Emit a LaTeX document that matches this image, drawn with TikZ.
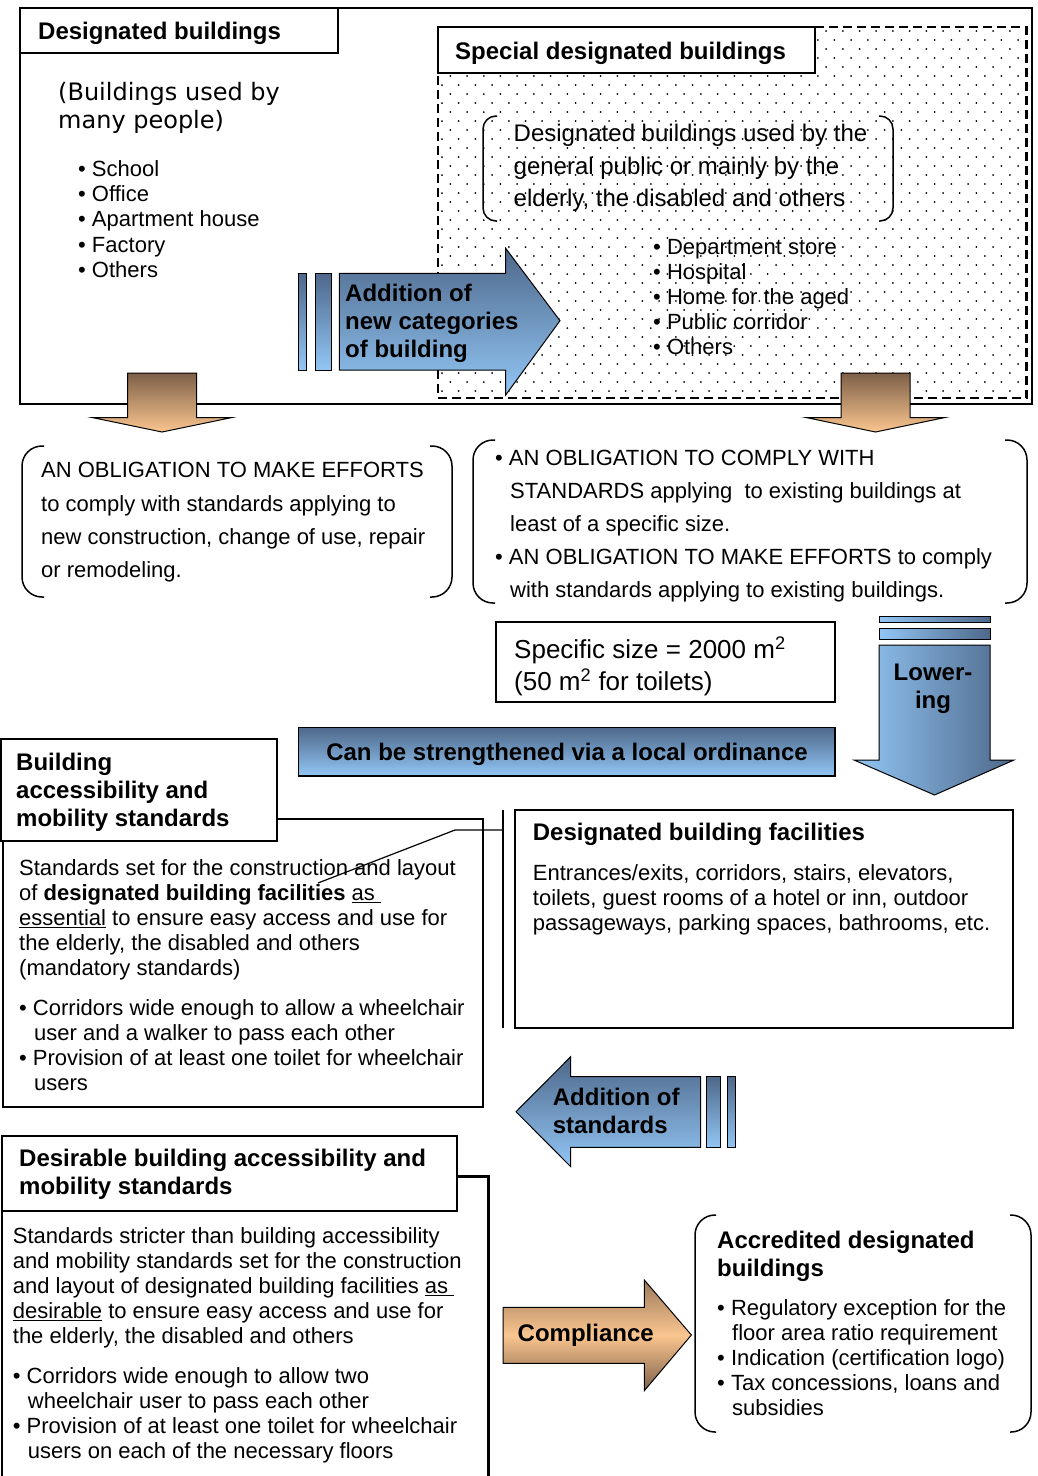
\documentclass[tikz,border=0pt]{standalone}
\usepackage{fontspec}
\setmainfont{Liberation Sans}
\newfontfamily\dvs{DejaVu Sans}
\definecolor{bdark}{RGB}{78,104,138}
\definecolor{blight}{RGB}{146,198,245}
\definecolor{odark}{RGB}{125,96,72}
\definecolor{olight}{RGB}{250,197,143}
\newcommand\fst{\rule{0pt}{20pt}}
\tikzset{
  txt/.style={anchor=north west, inner sep=0pt, align=left, font=\fontsize{22}{25}\selectfont},
  hd/.style={anchor=north west, inner sep=0pt, align=left, font=\bfseries\fontsize{24}{28}\selectfont},
  tbox/.style={draw, line width=2pt, fill=white},
  bluev/.style={draw, line width=1pt, top color=bdark, bottom color=blight},
  blueh/.style={draw, line width=1pt, left color=blight, right color=bdark},
  orangev/.style={draw, line width=1pt, top color=odark, bottom color=olight},
  brk/.style={line width=1.5pt, rounded corners=#1},
  brk/.default=20pt
}
\begin{document}
\begin{tikzpicture}[x=1pt, y=-1pt]
\useasboundingbox (0,0) rectangle (1037,1476);
\fill[white] (0,0) rectangle (1037,1476);

% dots of the special region
\foreach \j in {0,...,40} {
  \foreach \i in {0,...,35} {
    \pgfmathsetmacro\dx{442+16.7*\i+8.35*mod(\j,2)}
    \pgfmathsetmacro\dy{31+9*\j}
    \ifdim\dx pt<1022pt \fill (\dx,\dy) circle (1.0); \fi
  }
}

% outer frame
\draw[line width=2.5pt] (20,8) rectangle (1032,404);
\draw[tbox] (20,8) rectangle (338,53);
\node[hd] (tDes) at (38,19.5) {\fst Designated buildings};
\node[anchor=north west, inner sep=0pt, align=left, font=\dvs\fontsize{24}{28.7}\selectfont] (tMany) at (58,80) {\fst(Buildings used by\\many people)};
\node[txt, font=\fontsize{22}{25.3}\selectfont] (tList) at (78,156) {\fst• School\\• Office\\• Apartment house\\• Factory\\• Others};

% special designated buildings
\draw[line width=2.5pt, dash pattern=on 9pt off 5pt] (815,27) -- (1026.5,27) -- (1026.5,398) -- (438,398) -- (438,72.7);
\draw[tbox] (438,27.3) rectangle (815,72.7);
\node[hd] (tSpec) at (455,39.5) {\fst Special designated buildings};
\draw[brk=13pt] (497,116) -- (483,116) -- (483,221) -- (497,221);
\draw[brk=13pt] (879,116) -- (893,116) -- (893,221) -- (879,221);
\node[txt, font=\fontsize{24}{32.3}\selectfont] (tSpecDesc) at (513.5,121.7) {\fst Designated buildings used by the\\general public or mainly by the\\elderly, the disabled and others};
\node[txt, font=\fontsize{22}{25}\selectfont] (tSpecList) at (653,234) {\fst• Department store\\• Hospital\\• Home for the aged\\• Public corridor\\• Others};

% addition of new categories arrow
\path[bluev] (298.3,273.3) rectangle (306.7,370);
\path[bluev] (315,273.3) rectangle (331.7,370);
\path[bluev] (339.3,273.3) -- (505.7,273.3) -- (505.7,248.3) -- (560,320.7) -- (505.7,395) -- (505.7,370) -- (339.3,370) -- cycle;
\node[hd, font=\bfseries\fontsize{24}{28.3}\selectfont] (tAddCat) at (345,281) {\fst Addition of\\new categories\\of building};

% orange down arrows
\path[orangev] (127.5,373) -- (196.5,373) -- (196.5,417.5) -- (232,417.5) -- (162,432) -- (92,417.5) -- (127.5,417.5) -- cycle;
\path[orangev] (841,373) -- (910,373) -- (910,417.5) -- (945,417.5) -- (875.5,432) -- (806,417.5) -- (841,417.5) -- cycle;

% obligations
\draw[brk] (44,446) -- (22,446) -- (22,597) -- (44,597);
\draw[brk] (430,446) -- (452,446) -- (452,597) -- (430,597);
\node[txt, font=\fontsize{22}{33.3}\selectfont] (tObl1) at (41,457.5) {\fst AN OBLIGATION TO MAKE EFFORTS\\to comply with standards applying to\\new construction, change of use, repair\\or remodeling.};
\draw[brk] (495,440) -- (473,440) -- (473,603) -- (495,603);
\draw[brk] (1005,440) -- (1027,440) -- (1027,603) -- (1005,603);
\node[txt, font=\fontsize{22}{33}\selectfont] (tObl2) at (495,445.5) {\fst• AN OBLIGATION TO COMPLY WITH\\\hspace*{15pt}STANDARDS applying \ to existing buildings at\\\hspace*{15pt}least of a specific size.\\• AN OBLIGATION TO MAKE EFFORTS to comply\\\hspace*{15pt}with standards applying to existing buildings.};

% specific size
\draw[line width=2pt] (496,621.7) rectangle (835,701.7);
\node[txt, font=\fontsize{26}{32}\selectfont] (tSize) at (514,637) {\fst Specific size = 2000 m\textsuperscript{2}\\(50 m\textsuperscript{2} for toilets)};

% lowering arrow
\path[blueh] (879,616.7) rectangle (990,622.7);
\path[blueh] (879,628.3) rectangle (990,639.3);
\path[blueh] (879,645) -- (990,645) -- (990,760) -- (1014,760) -- (934.5,795) -- (854,760) -- (879,760) -- cycle;
\node[anchor=north, inner sep=0pt, align=center, font=\bfseries\fontsize{24}{28}\selectfont] (tLower) at (933,660) {\fst Lower-\\ing};

% local ordinance bar
\path[draw, line width=1.5pt, top color=bdark, bottom color=blight] (298.3,727.3) rectangle (835,776);
\node[anchor=base, inner sep=0pt, font=\bfseries\fontsize{24}{28}\selectfont] (tOrd) at (567,760) {Can be strengthened via a local ordinance};

% building accessibility and mobility standards
\draw[line width=2.5pt] (3,819) rectangle (483,1107);
\draw[tbox] (1,739) rectangle (277,841);
\node[hd] (tBAM) at (16,750) {\fst Building\\accessibility and\\mobility standards};
\node[txt] (tBAMbody) at (19,855) {\fst Standards set for the construction and layout\\of \textbf{designated building facilities} \underline{as\ }\\\underline{essential} to ensure easy access and use for\\the elderly, the disabled and others\\(mandatory standards)};
\node[txt] (tBAMlist) at (19,995) {\fst• Corridors wide enough to allow a wheelchair\\\hspace*{15pt}user and a walker to pass each other\\• Provision of at least one toilet for wheelchair\\\hspace*{15pt}users};

% designated building facilities
\draw[line width=2pt] (514.5,810) rectangle (1013,1028);
\node[hd] (tFac) at (532.7,820.7) {\fst Designated building facilities};
\node[txt] (tFacBody) at (532.7,860) {\fst Entrances/exits, corridors, stairs, elevators,\\toilets, guest rooms of a hotel or inn, outdoor\\passageways, parking spaces, bathrooms, etc.};

% callout
\coordinate (callA) at (318,883);
\coordinate (callB) at (455,830);
\coordinate (callC) at (502.8,830);
\coordinate (vTop) at (502.8,810);
\coordinate (vBot) at (502.8,1028);
\draw[line width=1.2pt] (callA) -- (callB) -- (callC);
\draw[line width=1.5pt] (vTop) -- (vBot);

% addition of standards arrow
\path[bluev] (706.7,1076.7) rectangle (720.7,1147.3);
\path[bluev] (727.3,1076.7) rectangle (735,1147.3);
\path[bluev] (700.7,1076.7) -- (570.7,1076.7) -- (570.7,1056.7) -- (516,1111.7) -- (570.7,1166.7) -- (570.7,1147.3) -- (700.7,1147.3) -- cycle;
\node[hd, font=\bfseries\fontsize{24}{28.3}\selectfont] (tAddStd) at (552.7,1085) {\fst Addition of\\standards};

% desirable standards
\draw[line width=2.5pt] (2,1480) -- (2,1176.7) -- (488.3,1176.7) -- (488.3,1480);
\draw[tbox] (2,1136) rectangle (457.3,1210.7);
\node[hd, font=\bfseries\fontsize{24}{27.5}\selectfont] (tDBAM) at (19,1146.7) {\fst Desirable building accessibility and\\mobility standards};
\node[txt] (tDBAMbody) at (12.7,1223.3) {\fst Standards stricter than building accessibility\\and mobility standards set for the construction\\and layout of designated building facilities \underline{as\ }\\\underline{desirable} to ensure easy access and use for\\the elderly, the disabled and others};
\node[txt] (tDBAMlist) at (12.7,1363.3) {\fst• Corridors wide enough to allow two\\\hspace*{15pt}wheelchair user to pass each other\\• Provision of at least one toilet for wheelchair\\\hspace*{15pt}users on each of the necessary floors};

% compliance arrow
\path[draw, line width=1pt, top color=odark!75!olight, bottom color=odark, middle color=olight] (503.2,1307.3) -- (644.3,1307.3) -- (644.3,1280) -- (691.4,1335) -- (644.3,1390.7) -- (644.3,1363.3) -- (503.2,1363.3) -- cycle;
\node[anchor=base west, inner sep=0pt, font=\bfseries\fontsize{24}{28}\selectfont] (tComp) at (517.5,1341.7) {Compliance};

% accredited designated buildings
\draw[brk] (716,1215) -- (695,1215) -- (695,1432) -- (716,1432);
\draw[brk] (1010,1215) -- (1031,1215) -- (1031,1432) -- (1010,1432);
\node[hd] (tAcc) at (717,1228) {\fst Accredited designated\\buildings};
\node[txt] (tAccList) at (717,1295) {\fst• Regulatory exception for the\\\hspace*{15pt}floor area ratio requirement\\• Indication (certification logo)\\• Tax concessions, loans and\\\hspace*{15pt}subsidies};
\end{tikzpicture}
\end{document}
